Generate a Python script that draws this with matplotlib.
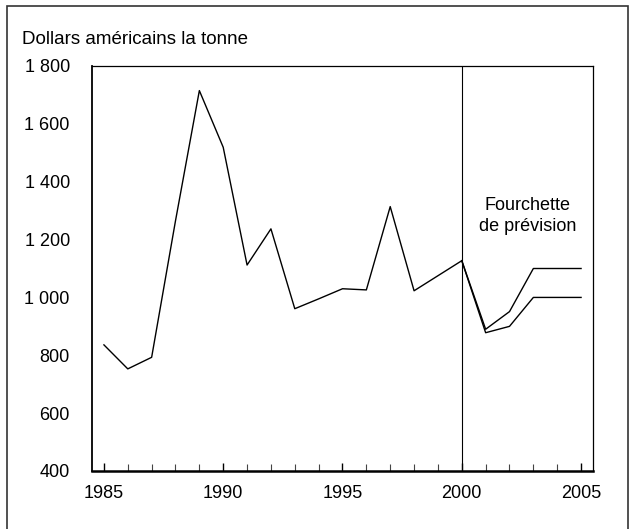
import matplotlib
matplotlib.use("Agg")
import matplotlib.pyplot as plt
from matplotlib.patches import Rectangle

plt.rcParams["font.family"] = ["Liberation Sans", "DejaVu Sans"]

# historique
years = [1985, 1986, 1987, 1988, 1989, 1990, 1991, 1992, 1993, 1994,
         1995, 1996, 1997, 1998, 1999, 2000]
price = [836, 753, 793, 1265, 1715, 1519, 1112, 1237, 961, 995,
         1030, 1026, 1314, 1023, 1075, 1127]

# fourchette de prévision
fc_years = [2000, 2001, 2002, 2003, 2004, 2005]
fc_high = [1127, 890, 951, 1100, 1100, 1100]
fc_low = [1127, 878, 900, 1000, 1000, 1000]

yticks = [400, 600, 800, 1000, 1200, 1400, 1600, 1800]
ytick_labels = ["400", "600", "800", "1 000", "1 200", "1 400", "1 600", "1 800"]
xticks = [1985, 1990, 1995, 2000, 2005]

fig = plt.figure(figsize=(6.29, 5.29), dpi=100)
ax = fig.add_axes([92/629, 1-471/529, (593-92)/629, (471-66)/529])

ax.plot(years, price, color="black", lw=1.0)
ax.plot(fc_years, fc_high, color="black", lw=1.0)
ax.plot(fc_years, fc_low, color="black", lw=1.0)
ax.axvline(2000, color="black", lw=0.8)

ax.set_xlim(1984.5, 2005.5)
ax.set_ylim(400, 1800)
ax.set_yticks(yticks)
ax.set_yticklabels(ytick_labels)
ax.set_xticks(xticks)
ax.set_xticks(range(1985, 2006), minor=True)
ax.tick_params(axis="y", length=0, pad=16, labelsize=13)
ax.tick_params(axis="x", which="major", direction="in", length=5.5, width=1.0, pad=10, labelsize=13)
ax.tick_params(axis="x", which="minor", direction="in", length=5, width=0.8, color="#444444")

ax.spines["bottom"].set_linewidth(1.8)
ax.spines["left"].set_linewidth(1.3)
ax.spines["top"].set_linewidth(0.9)
ax.spines["right"].set_linewidth(0.9)

ax.text(2002.75, 1280, "Fourchette\nde prévision", ha="center", va="center",
        fontsize=13, linespacing=1.3)

fig.text(22/629, 1-39/529, "Dollars américains la tonne", ha="left", va="center", fontsize=13.5)

fig.patches.append(Rectangle((7/629, -0.01), (628-7)/629, 1.01-6/529,
                             transform=fig.transFigure, fill=False,
                             edgecolor="#333333", lw=1.2))

fig.savefig("out.png", dpi=100)
